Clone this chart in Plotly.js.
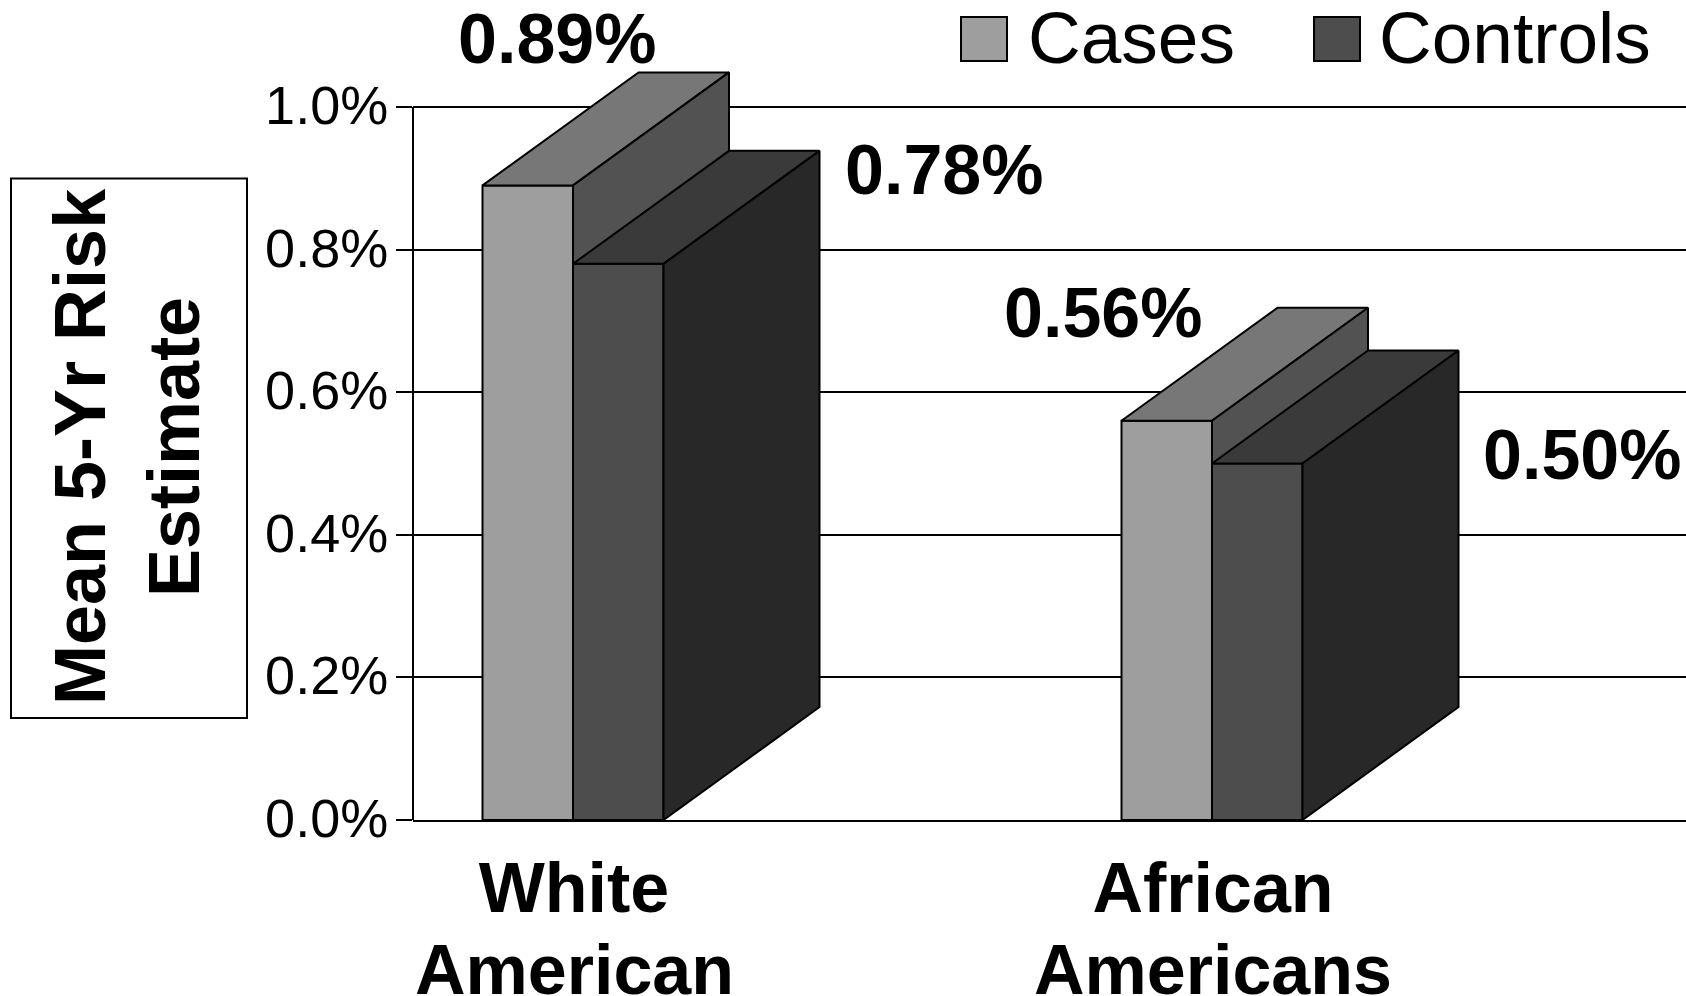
<!DOCTYPE html>
<html>
<head>
<meta charset="utf-8">
<script src="https://cdn.plot.ly/plotly-3.0.1.min.js"></script>
<style>html,body{margin:0;padding:0;background:#fff;overflow:hidden}</style>
</head>
<body>
<div id="chart" style="width:1686px;height:996px"></div>
<script>
const catFirstLine = ['White', 'African'];
const catSecondLine = ['American', 'Americans'];
const catPos = [0, 1];
const casesValues = [0.89, 0.56];
const controlsValues = [0.78, 0.50];
const yTicks = [0, 0.2, 0.4, 0.6, 0.8, 1.0];
const yTickLabels = ['0.0%', '0.2%', '0.4%', '0.6%', '0.8%', '1.0%'];
const seriesNames = ['Cases', 'Controls'];
const yTitle = 'Mean 5-Yr Risk<br>Estimate';

const W = 1686, H = 996, L = 413, B = 176;
const plotW = W - L, plotH = H - B;
const xUnit = 639, yUnit = 713;
const xRange = [-(573 - L) / xUnit, (W - 573) / xUnit];
const yRange = [0, plotH / yUnit];
const barW = 90.5 / xUnit, depthX = 156 / xUnit, depthY = 113 / yUnit;
const BLACK = '#000';
const SANS = '"Liberation Sans", Arial, sans-serif';

const casesStyle = {front: '#9e9e9e', top: '#777777', side: '#525252', xa: 'x', ya: 'y', shift: -barW / 2};
const controlsStyle = {front: '#4d4d4d', top: '#3a3a3a', side: '#282828', xa: 'x2', ya: 'y2', shift: barW / 2};

function poly(xs, ys, color, st) {
  return {type: 'scatter', mode: 'lines', x: xs, y: ys, xaxis: st.xa, yaxis: st.ya,
    fill: 'toself', fillcolor: color, line: {color: BLACK, width: 2},
    hoverinfo: 'skip', showlegend: false};
}
function series(name, values, st) {
  const out = [{
    type: 'bar', name: name, x: catPos.map(c => c + st.shift), y: values, width: barW,
    xaxis: st.xa, yaxis: st.ya, marker: {color: st.front, line: {color: BLACK, width: 2}},
    showlegend: false
  }];
  values.forEach((v, i) => {
    const x0 = catPos[i] + st.shift - barW / 2, x1 = x0 + barW;
    out.push(poly([x0, x1, x1 + depthX, x0 + depthX, x0], [v, v, v + depthY, v + depthY, v], st.top, st));
    out.push(poly([x1, x1, x1 + depthX, x1 + depthX, x1], [0, v, v + depthY, depthY, 0], st.side, st));
  });
  return out;
}
const data = [...series(seriesNames[0], casesValues, casesStyle),
              ...series(seriesNames[1], controlsValues, controlsStyle)];

const fmt = v => v.toFixed(2) + '%';
const labelShift = {
  cases: [[29, 146], [-64, 108]],
  controls: [[326, 94], [325, 9]]
};
function valueNote(v, i, st, shifts) {
  return {xref: 'x', yref: 'y', x: catPos[i] + st.shift, y: v, text: fmt(v), showarrow: false,
    xshift: shifts[i][0], yshift: shifts[i][1], xanchor: 'center', yanchor: 'middle',
    font: {family: SANS, size: 70, color: BLACK, weight: 'bold'}};
}
const px = x => (x - L) / plotW;
const py = y => (plotH - y) / plotH;

const annotations = [
  ...casesValues.map((v, i) => valueNote(v, i, casesStyle, labelShift.cases)),
  ...controlsValues.map((v, i) => valueNote(v, i, controlsStyle, labelShift.controls)),
  ...catSecondLine.map((t, i) => ({xref: 'x', yref: 'paper', x: catPos[i], y: py(970), xshift: 1, text: t,
    showarrow: false, xanchor: 'center', yanchor: 'middle',
    font: {family: SANS, size: 70, color: BLACK, weight: 'bold'}})),
  {xref: 'paper', yref: 'paper', x: px(1026), y: py(37), text: seriesNames[0], showarrow: false,
    xanchor: 'left', yanchor: 'middle', font: {family: SANS, size: 73, color: BLACK}},
  {xref: 'paper', yref: 'paper', x: px(1377), y: py(37), text: seriesNames[1], showarrow: false,
    xanchor: 'left', yanchor: 'middle', font: {family: SANS, size: 73, color: BLACK}},
  {xref: 'paper', yref: 'paper', x: px(127), y: py(447), text: yTitle, showarrow: false, textangle: -90,
    xanchor: 'center', yanchor: 'middle', font: {family: SANS, size: 72, color: BLACK, weight: 'bold'}}
];

const shapes = [
  {type: 'rect', xref: 'paper', yref: 'paper', x0: px(11), x1: px(247), y0: py(718), y1: py(178.5),
    line: {color: BLACK, width: 2}, fillcolor: 'rgba(0,0,0,0)'},
  {type: 'line', xref: 'paper', yref: 'y', x0: 0, x1: 0, y0: 0, y1: 1,
    line: {color: BLACK, width: 2}, layer: 'below'},
  {type: 'rect', xref: 'paper', yref: 'paper', x0: px(961), x1: px(1007), y0: py(61), y1: py(17),
    fillcolor: casesStyle.front, line: {color: BLACK, width: 2}},
  {type: 'rect', xref: 'paper', yref: 'paper', x0: px(1314), x1: px(1360), y0: py(61), y1: py(17),
    fillcolor: controlsStyle.front, line: {color: BLACK, width: 2}}
];

const layout = {
  width: W, height: H, margin: {l: L, r: 0, t: 0, b: B, pad: 0},
  paper_bgcolor: '#fff', plot_bgcolor: '#fff', barmode: 'overlay', showlegend: false,
  xaxis: {range: xRange, tickmode: 'array', tickvals: catPos, ticktext: catFirstLine,
    showgrid: false, zeroline: false, showline: true, linecolor: BLACK, linewidth: 2, ticks: '', automargin: false,
    ticklabelstandoff: 6, ticklabelshift: 1,
    tickfont: {family: SANS, size: 70, color: BLACK, weight: 'bold'}},
  yaxis: {range: yRange, tickmode: 'array', tickvals: yTicks, ticktext: yTickLabels,
    showgrid: true, gridcolor: BLACK, gridwidth: 2, zeroline: false, showline: false,
    ticks: 'outside', ticklen: 16, tickwidth: 2, tickcolor: BLACK, automargin: false,
    ticklabelstandoff: -3, ticklabelshift: -2,
    tickfont: {family: SANS, size: 54, color: BLACK}},
  xaxis2: {range: xRange, overlaying: 'x', visible: false},
  yaxis2: {range: yRange, overlaying: 'y', visible: false},
  annotations, shapes
};
Plotly.newPlot('chart', data, layout, {displayModeBar: false, staticPlot: true});
</script>
</body>
</html>
